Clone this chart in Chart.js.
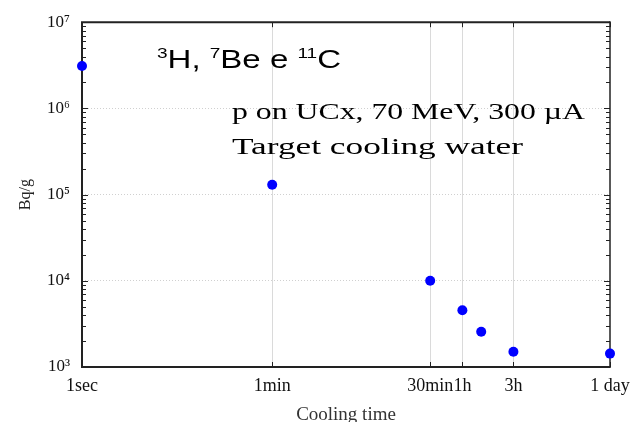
<!DOCTYPE html>
<html>
<head>
<meta charset="utf-8">
<script src="https://cdn.jsdelivr.net/npm/chart.js@4.4.1/dist/chart.umd.min.js"></script>
<style>
  html, body { margin: 0; padding: 0; background: #fff; }
  #wrap { width: 641px; height: 422px; position: relative; }
</style>
</head>
<body>
<div id="wrap"><canvas id="c" width="641" height="422"></canvas></div>
<script>
// Specific activity of the target cooling water versus cooling time
const coolingTimeSec = [1, 60, 1800, 3600, 5400, 10800, 86400];
const activityBqPerG = [3.1e6, 1.3e5, 1.0e4, 4.55e3, 2.57e3, 1.5e3, 1.43e3];

const timeTickValues = [1, 60, 1800, 3600, 10800, 86400];
const timeTickLabels = ['1sec', '1min', '30min', '1h', '3h', '1 day'];
const activityTickValues = [1e3, 1e4, 1e5, 1e6, 1e7];

const SERIF = '"Liberation Serif", "Times New Roman", serif';
const SANS = '"Liberation Sans", Arial, sans-serif';
const SUP = { '0': '⁰', '1': '¹', '2': '²', '3': '³', '4': '⁴', '5': '⁵', '6': '⁶', '7': '⁷', '8': '⁸', '9': '⁹' };
const toSup = s => String(s).split('').map(ch => SUP[ch] || ch).join('');

// Draws a row of text runs (normal / superscript), stretched horizontally to a given width
function drawRuns(ctx, runs, x, y, width) {
  ctx.save();
  let total = 0;
  for (const r of runs) { ctx.font = r.font; total += ctx.measureText(r.text).width; }
  ctx.translate(x, y);
  ctx.scale(width / total, 1);
  ctx.fillStyle = '#000';
  ctx.textBaseline = 'alphabetic';
  ctx.textAlign = 'left';
  let cx = 0;
  for (const r of runs) {
    ctx.font = r.font;
    ctx.fillText(r.text, cx, r.dy || 0);
    cx += ctx.measureText(r.text).width;
  }
  ctx.restore();
}

// Frame with inward ticks, drawn under the markers
const framePlugin = {
  id: 'frame',
  beforeDatasetsDraw(chart) {
    const { ctx, chartArea: a, scales } = chart;
    const xs = scales.x, ys = scales.y;
    ctx.save();
    ctx.strokeStyle = '#222';

    ctx.lineWidth = 1;
    for (let e = 3; e < 7; e++) {
      for (let k = 1; k <= 9; k++) {
        const v = k * Math.pow(10, e);
        const py = Math.round(ys.getPixelForValue(v)) + 0.5;
        const len = k === 1 ? 6 : 4;
        ctx.beginPath();
        ctx.moveTo(a.left, py); ctx.lineTo(a.left + len, py);
        ctx.moveTo(a.right, py); ctx.lineTo(a.right - len, py);
        ctx.stroke();
      }
    }
    for (const v of timeTickValues) {
      const px = Math.round(xs.getPixelForValue(v)) + 0.5;
      ctx.beginPath();
      ctx.moveTo(px, a.bottom); ctx.lineTo(px, a.bottom - 5);
      ctx.moveTo(px, a.top); ctx.lineTo(px, a.top + 5);
      ctx.stroke();
    }

    ctx.lineWidth = 2;
    ctx.beginPath();
    ctx.moveTo(a.left, a.top); ctx.lineTo(a.right, a.top);
    ctx.moveTo(a.left, a.top - 1); ctx.lineTo(a.left, a.bottom + 1);
    ctx.moveTo(a.left, a.bottom); ctx.lineTo(a.right, a.bottom);
    ctx.stroke();
    ctx.lineWidth = 1.5;
    ctx.beginPath();
    ctx.moveTo(a.right, a.top - 1); ctx.lineTo(a.right, a.bottom + 1);
    ctx.stroke();
    ctx.restore();
  },
  afterDraw(chart) {
    const ctx = chart.ctx;
    const big = '26px ' + SANS, small = '15px ' + SANS;
    drawRuns(ctx, [
      { text: '3', font: small, dy: -10 },
      { text: 'H, ', font: big },
      { text: '7', font: small, dy: -10 },
      { text: 'Be e ', font: big },
      { text: '11', font: small, dy: -10 },
      { text: 'C', font: big }
    ], 157, 68, 184);
    const note = '23px ' + SERIF;
    drawRuns(ctx, [{ text: 'p on UCx, 70 MeV, 300 \u00B5A', font: note }], 232, 119, 353);
    drawRuns(ctx, [{ text: 'Target cooling water', font: note }], 232, 154, 291);
  }
};

const points = coolingTimeSec.map((t, i) => ({ x: t, y: activityBqPerG[i] }));

new Chart(document.getElementById('c'), {
  type: 'scatter',
  data: {
    datasets: [{
      data: points,
      backgroundColor: '#0000ff',
      borderWidth: 0,
      pointRadius: 5,
      pointHoverRadius: 5,
      clip: false
    }]
  },
  options: {
    responsive: false,
    animation: false,
    devicePixelRatio: 1,
    layout: { padding: { top: 16, right: 31, left: 0, bottom: 0 } },
    plugins: { legend: { display: false }, tooltip: { enabled: false } },
    scales: {
      x: {
        type: 'logarithmic',
        min: 1,
        max: 86400,
        afterBuildTicks(scale) { scale.ticks = timeTickValues.map(v => ({ value: v, major: true })); },
        afterFit(scale) { scale.height = 55; },
        ticks: {
          autoSkip: false,
          minRotation: 0,
          maxRotation: 0,
          padding: 8,
          color: '#111',
          font: { family: SERIF, size: 18 },
          callback(value) {
            const i = timeTickValues.indexOf(value);
            return i >= 0 ? timeTickLabels[i] : '';
          }
        },
        grid: {
          drawTicks: false,
          lineWidth: 1,
          color: ctx => (ctx.tick && (ctx.tick.value === 1 || ctx.tick.value === 86400)) ? 'rgba(0,0,0,0)' : '#dadada'
        },
        border: { display: false, dash: [] },
        title: {
          display: true,
          text: 'Cooling time',
          color: '#333',
          font: { family: SERIF, size: 19 },
          padding: { top: 0, bottom: -4 }
        }
      },
      y: {
        type: 'logarithmic',
        min: 1e3,
        max: 1e7,
        afterBuildTicks(scale) { scale.ticks = activityTickValues.map(v => ({ value: v, major: true })); },
        afterFit(scale) { scale.width = 82; },
        ticks: {
          padding: 12,
          color: '#111',
          font: { family: SERIF, size: 17 },
          callback(value) { return '10' + toSup(Math.round(Math.log10(value))); }
        },
        grid: {
          drawTicks: false,
          lineWidth: 1,
          color: ctx => (ctx.tick && (ctx.tick.value === 1e3 || ctx.tick.value === 1e7)) ? 'rgba(0,0,0,0)' : '#d0d0d0'
        },
        border: { display: false, dash: [1, 2] },
        title: {
          display: true,
          text: 'Bq/g',
          color: '#222',
          font: { family: SERIF, size: 16 },
          padding: { top: 16, bottom: 0 }
        }
      }
    }
  },
  plugins: [framePlugin]
});
</script>
</body>
</html>
